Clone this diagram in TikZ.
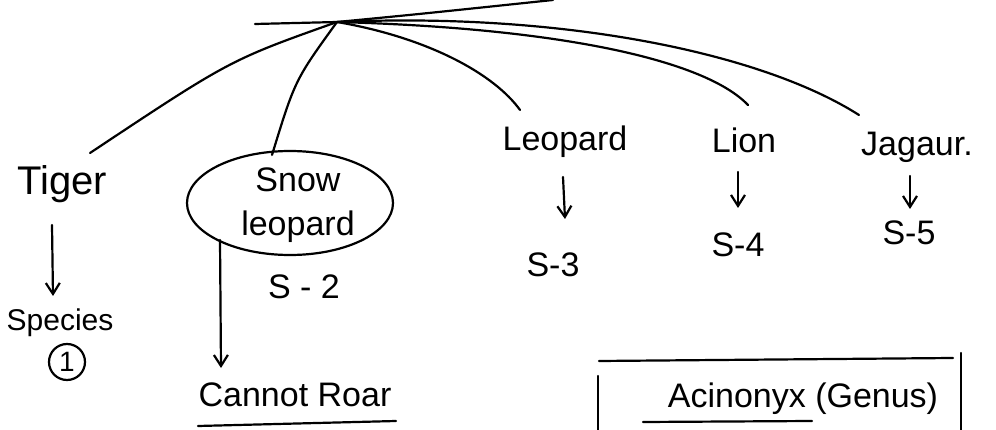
\documentclass[tikz,border=0pt]{standalone}
\usepackage{fontspec}
\setmainfont{Liberation Sans}
\usetikzlibrary{arrows.meta,shapes.geometric}
\begin{document}
\begin{tikzpicture}[x=1pt,y=-1pt,
  ink/.style={line width=2.2pt,line cap=round,line join=round},
  txt/.style={inner sep=0pt,font=\fontsize{34}{44}\selectfont},
  arr/.style={ink,-{Straight Barb[length=11pt,width=14pt]}}]
\useasboundingbox (0,0) rectangle (996,430);
% hub and top stub
\coordinate (hub) at (337,22);
\coordinate (stubL) at (255,24);
\coordinate (stubR) at (553,0);
\draw[ink] (stubL) -- (hub) .. controls (420,14) .. (stubR);
% nodes
\node[txt,font=\fontsize{40}{44}\selectfont] (tiger) at (62,184) {Tiger};
\node[ellipse,draw,line width=2.2pt,minimum width=206pt,minimum height=104pt,inner sep=0pt] (snowE) at (290,203) {};
\node[txt,align=center] (snow) at (298,205) {Snow\\leopard};
\node[txt] (s2) at (304,287) {S - 2};
\node[txt,font=\fontsize{30}{36}\selectfont] (species) at (60,323) {Species};
\node[circle,draw,line width=2.2pt,minimum size=36pt,inner sep=0pt,font=\fontsize{28}{30}\selectfont] (one) at (67,362) {1};
\node[txt] (cannot) at (295,395) {Cannot Roar};
\node[txt] (leopard) at (565,142) {Leopard};
\node[txt] (lion) at (744,140) {Lion};
\node[txt] (jaguar) at (917,147) {Jagaur.};
\node[txt] (s3) at (553,265) {S-3};
\node[txt] (s4) at (738,245) {S-4};
\node[txt] (s5) at (909,233) {S-5};
\node[txt] (acin) at (803,399) {Acinonyx (Genus)};
% ends of connectors
\coordinate (tigerTop) at (90,153);
\coordinate (snowTop) at (272,155);
\coordinate (leoTop) at (520,110);
\coordinate (lionTop) at (748,105);
\coordinate (jagTop) at (859,115);
\draw[ink] (hub) .. controls (230,60) .. (tigerTop);
\draw[ink] (hub) .. controls (295,80) .. (snowTop);
\draw[ink] (hub) .. controls (430,38) and (495,75) .. (leoTop);
\draw[ink] (hub) .. controls (560,28) and (705,60) .. (lionTop);
\draw[ink] (hub) .. controls (560,12) and (760,52) .. (jagTop);
% down arrows
\coordinate (a1s) at (52,225); \coordinate (a1e) at (53,296);
\coordinate (a2s) at (220,240); \coordinate (a2e) at (221,368);
\coordinate (a3s) at (563,177); \coordinate (a3e) at (565,219);
\coordinate (a4s) at (738,172); \coordinate (a4e) at (738,208);
\coordinate (a5s) at (910,176); \coordinate (a5e) at (910,209);
\draw[arr] (a1s) -- (a1e);
\draw[arr] (a2s) -- (a2e);
\draw[arr] (a3s) -- (a3e);
\draw[arr] (a4s) -- (a4e);
\draw[arr] (a5s) -- (a5e);
% underline under Cannot Roar
\coordinate (u1a) at (198,426); \coordinate (u1b) at (396,421);
\draw[ink] (u1a) -- (u1b);
% box around Acinonyx
\coordinate (bTL) at (599,361); \coordinate (bTR) at (953,358);
\coordinate (bL1) at (598,376); \coordinate (bL2) at (598,432);
\coordinate (bR1) at (961,353); \coordinate (bR2) at (961,432);
\draw[ink] (bTL) -- (bTR);
\draw[ink] (bL1) -- (bL2);
\draw[ink] (bR1) -- (bR2);
\coordinate (u2a) at (643,422); \coordinate (u2b) at (812,421);
\draw[ink] (u2a) -- (u2b);
\end{tikzpicture}
\end{document}
